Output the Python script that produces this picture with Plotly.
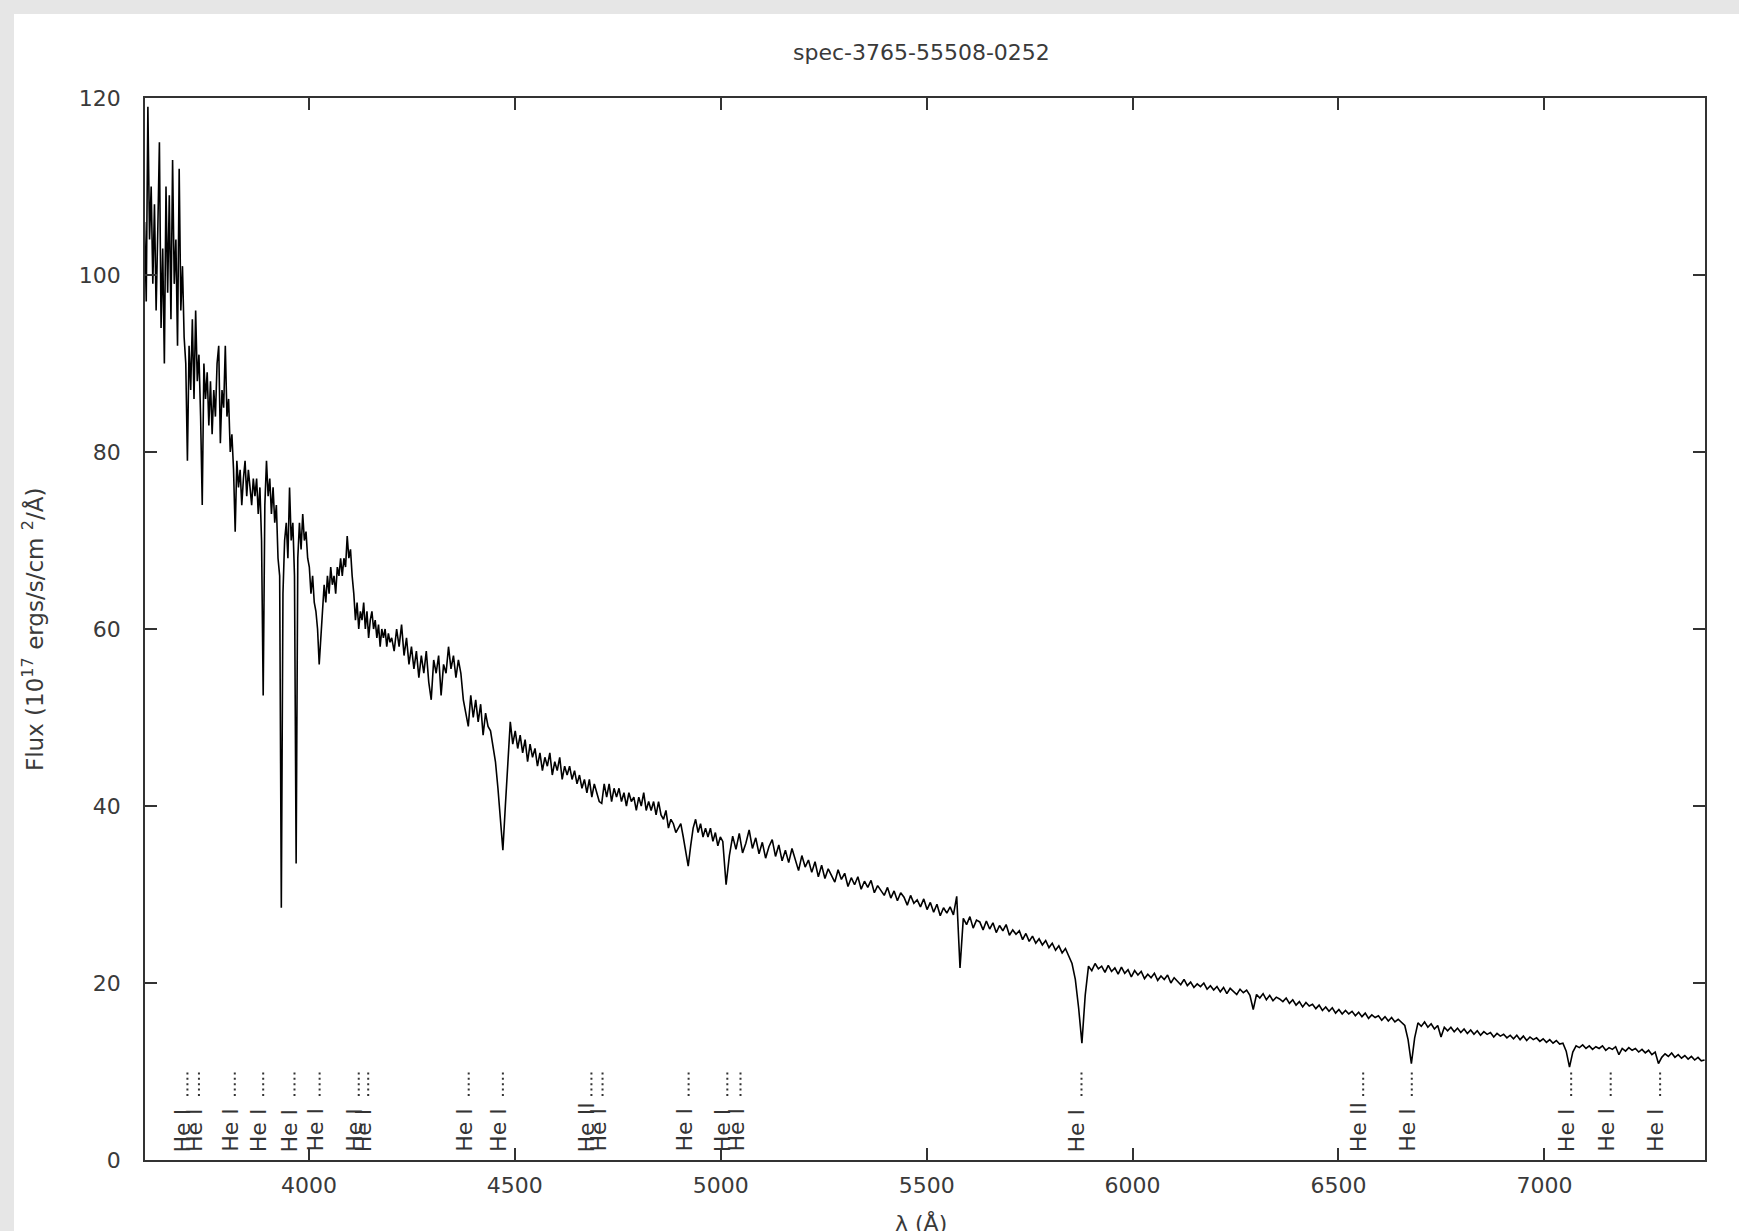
import numpy as np
import plotly.graph_objects as go

# ---------------- data ----------------
title_text = "spec-3765-55508-0252"

# segment A: 3601 + 4*k  (blue, noisy)
flux_a = [
    106, 97, 119, 104, 110, 99, 108, 96, 105, 115,
    94, 103, 90, 110, 98, 109, 95, 113, 99, 104,
    92, 112, 96, 101, 93, 90, 79, 92, 87, 95,
    86, 96, 88, 91, 84, 74, 90, 86, 89, 83,
    88, 82, 87, 84, 90, 92, 81, 87, 85, 92,
    84, 86, 80, 82, 78, 71, 79, 76, 78, 74,
    77, 79, 75, 78, 76, 74, 77, 75, 77, 73,
    76, 70, 52.5, 74, 79, 75, 77, 73, 76, 72,
    74, 68, 66, 28.5, 64, 70, 72, 68, 76, 70,
    72, 66, 33.5, 68, 72, 69, 73, 70, 71, 68,
    67, 64, 66, 63, 62, 60, 56, 59, 63, 65,
    63, 66, 64, 67, 65, 66, 64, 67, 66, 68,
    66, 68, 67, 70.5, 68, 69, 66, 64, 61, 63,
    60, 62, 61, 63, 60, 62, 59, 61, 62, 60,
    61, 59, 60.5, 58, 60, 59, 60, 58, 59.5, 58.5,
]
start_a, step_a = 3601, 4

# segment B: 4201 + 6*k
flux_b = [
    59, 57.5, 60, 58, 60.5, 57, 59, 56, 58, 55.5,
    57.5, 54.5, 57, 55, 57.5, 54, 52, 56.5, 55, 57,
    52.5, 56, 55, 58, 55.5, 57, 54.5, 56.5, 55, 52,
    50.5, 49, 52.5, 50, 52, 49.5, 51.5, 48, 50.5, 49,
    48.5, 46.5, 45, 42, 38.5, 35, 40, 45, 49.5, 47,
    48.5, 46.5, 48, 46, 47.5, 45, 47, 45.5, 46.5, 44.5,
    46, 44, 45.5, 44.5, 46, 43.5, 45, 44, 45.5, 43,
    44.5, 43.5, 44.5, 43, 44, 42.5, 43.5, 42, 43, 41.5,
    43, 41, 42.5, 41.5, 40.5, 40.3, 42.5, 41, 42.5, 40.5,
    42, 41, 42, 40.5, 41.5, 40, 41.5, 40.5, 41, 39.5,
    41, 40, 41.5, 39.5, 40.5, 39.5, 40.5, 39, 40.5, 39,
    38.5, 39.5, 37.5, 38.5, 38, 37, 37.5, 38, 36.5, 35,
    33.2, 35.5, 37.5, 38.5, 37, 38, 36.5, 37.5, 36.5, 37.5,
    36, 37, 35.5, 36.5,
]
start_b, step_b = 4201, 6

# segment C: 5005 + 8*k
flux_c = [
    36.0, 31.1, 34.4, 36.6, 35.1, 36.9, 34.7, 35.8, 37.3, 35.2,
    36.4, 34.6, 35.9, 34.1, 35.4, 36.2, 34.3, 35.6, 33.8, 35.0,
    33.6, 35.2, 34.0, 32.7, 34.4, 33.1, 33.9, 32.5, 33.7, 32.0,
    33.3, 31.8, 32.9, 32.2, 31.4, 32.8, 31.7, 32.4, 30.9, 31.9,
    31.1, 32.0, 30.6, 31.5, 30.8, 31.6, 30.2, 31.0, 30.5, 29.9,
    30.8, 29.6, 30.4, 29.3, 30.2, 29.7, 28.8, 29.9, 29.0, 29.4,
    28.6, 29.5, 28.3, 29.1, 28.0, 28.9, 27.6, 28.5, 27.9, 28.6,
    27.7, 29.8, 21.7, 27.3,
    26.6, 27.5, 26.2, 27.1, 26.9, 26.0,
    27.0, 26.1, 26.8, 25.7, 26.5, 25.9, 26.6, 25.4, 26.0, 25.5,
    25.9, 24.9, 25.6, 24.7, 25.3, 24.5, 25.0, 24.3, 24.8, 24.0,
    24.5, 23.7, 24.2, 23.4, 23.9, 23.0, 22.2, 20.4, 17.2, 13.2,
    18.6, 21.9,
    21.4, 22.2, 21.6, 21.9, 21.2, 22.0, 21.3, 21.7,
    21.0, 21.8, 21.1, 21.5, 20.7, 21.4, 20.9, 21.3, 20.5, 21.0,
    20.6, 21.1, 20.3, 20.8, 20.4, 20.9, 20.0, 20.6, 20.2, 19.8,
    20.4, 19.7, 20.1, 19.5, 19.9, 19.6, 20.0, 19.3, 19.7, 19.2,
    19.6, 19.0, 19.5, 18.8, 19.4, 19.1, 18.7, 19.3, 18.9, 19.2,
    18.6, 17.0, 18.7, 18.3, 18.8, 18.1, 18.6, 18.0, 18.4, 18.2,
    17.9, 18.3, 17.7, 18.1, 17.5, 17.9, 17.3, 17.8, 17.4, 17.6,
    17.1, 17.5, 16.9, 17.3, 16.8, 17.2, 16.6, 17.0, 16.5, 16.9,
    16.5, 16.8, 16.3, 16.7, 16.2, 16.6, 16.0, 16.4, 16.1, 16.3,
    15.8, 16.2, 15.7, 16.1, 15.6, 15.9, 15.5, 15.2, 13.6, 10.9,
    13.8, 15.5,
    15.1, 15.6, 15.0, 15.4, 14.8, 15.2, 13.9, 15.0,
    14.6, 15.0, 14.5, 14.9, 14.4, 14.8, 14.3, 14.7, 14.2, 14.6,
    14.1, 14.5, 14.2, 14.4, 13.9, 14.3, 14.0, 14.2, 13.8, 14.1,
    13.7, 14.1, 13.6, 14.0, 13.5, 13.9, 13.6, 13.8, 13.4, 13.7,
    13.3, 13.6, 13.2, 13.5, 13.1, 13.2, 12.3, 10.5, 12.2, 12.9,
    12.7, 13.0, 12.6, 12.9, 12.5, 12.8, 12.6, 12.9, 12.4, 12.7,
    12.5, 12.8, 11.9, 12.6, 12.3, 12.7, 12.4, 12.6, 12.2, 12.5,
    12.1, 12.4, 11.9, 12.2, 10.9, 11.6, 12.0, 11.7, 12.1, 11.6,
    11.9, 11.5, 11.8, 11.4, 11.7, 11.3, 11.6, 11.2, 11.3,
]
start_c, step_c = 5005, 8

# identified lines
line_wave = [3705, 3733, 3820, 3889, 3965, 4026, 4121, 4144, 4388, 4471,
             4686, 4713, 4922, 5016, 5048, 5876, 6560, 6678, 7065, 7161, 7281]
line_name = ["He I", "He I", "He I", "He I", "He I", "He I", "He I", "He I", "He I", "He I",
             "He II", "He I", "He I", "He I", "He I", "He I", "He II", "He I", "He I", "He I", "He I"]

x_ticks = [4000, 4500, 5000, 5500, 6000, 6500, 7000]
y_ticks = [0, 20, 40, 60, 80, 100, 120]
x_range = [3602, 7390]
y_range = [0, 120]

# ---------------- build ----------------
wave = np.concatenate([
    start_a + step_a * np.arange(len(flux_a)),
    start_b + step_b * np.arange(len(flux_b)),
    start_c + step_c * np.arange(len(flux_c)),
])
flux = np.concatenate([flux_a, flux_b, flux_c])

W, H = 1739, 1231
ml, mr, mt, mb = 145, 34, 98, 71
pw, ph = W - ml - mr, H - mt - mb

def px_x(px):
    return (px - ml) / pw

def px_y(py):
    return (H - mb - py) / ph

FONT = "DejaVu Sans"
TXT = "#3a3a3a"

fig = go.Figure()
fig.add_trace(go.Scatter(x=wave, y=flux, mode="lines",
                         line=dict(color="black", width=1.6),
                         hoverinfo="skip", showlegend=False))

shapes = [dict(type="rect", xref="paper", yref="paper",
               x0=px_x(14), x1=px_x(W + 5), y0=px_y(H + 5), y1=px_y(14),
               fillcolor="white", line=dict(width=0), layer="below")]
annotations = []
for w, name in zip(line_wave, line_name):
    shapes.append(dict(type="line", xref="x", yref="paper",
                       x0=w, x1=w, y0=px_y(1096), y1=px_y(1069),
                       line=dict(color="#333333", width=2, dash="2px,3.4px")))
    annotations.append(dict(x=w, xref="x", y=px_y(1153), yref="paper",
                            text=name, textangle=-90, showarrow=False,
                            xanchor="center", yanchor="bottom", xshift=-5,
                            borderpad=0,
                            font=dict(family=FONT, size=22, color="#333333")))

annotations.append(dict(x=px_x(921), y=px_y(53), xref="paper", yref="paper",
                        text=title_text, showarrow=False, xanchor="center", yanchor="middle",
                        font=dict(family=FONT, size=22, color=TXT)))
annotations.append(dict(x=px_x(921), y=px_y(1208), xref="paper", yref="paper",
                        text="λ (Å)", showarrow=False, xanchor="center", yanchor="top",
                        font=dict(family=FONT, size=22, color=TXT)))
annotations.append(dict(x=px_x(33), y=0.5, xref="paper", yref="paper",
                        text="Flux (10<sup>17</sup> ergs/s/cm <sup>2</sup>/Å)", textangle=-90,
                        showarrow=False, xanchor="center", yanchor="middle",
                        font=dict(family=FONT, size=23, color=TXT)))

axis_common = dict(showline=True, linecolor="#333333", linewidth=1.5, mirror="ticks",
                   ticks="inside", ticklen=12, tickwidth=1.5, tickcolor="#333333",
                   showgrid=False, zeroline=False,
                   tickfont=dict(family=FONT, size=22, color=TXT))

fig.update_layout(
    width=W, height=H, autosize=False,
    margin=dict(l=ml, r=mr, t=mt, b=mb, pad=0),
    paper_bgcolor="#e6e6e6", plot_bgcolor="white",
    xaxis=dict(range=x_range, tickvals=x_ticks, ticklabelstandoff=5, **axis_common),
    yaxis=dict(range=y_range, tickvals=y_ticks, ticklabelstandoff=18, **axis_common),
    shapes=shapes, annotations=annotations,
)

fig.write_html("out.html")
